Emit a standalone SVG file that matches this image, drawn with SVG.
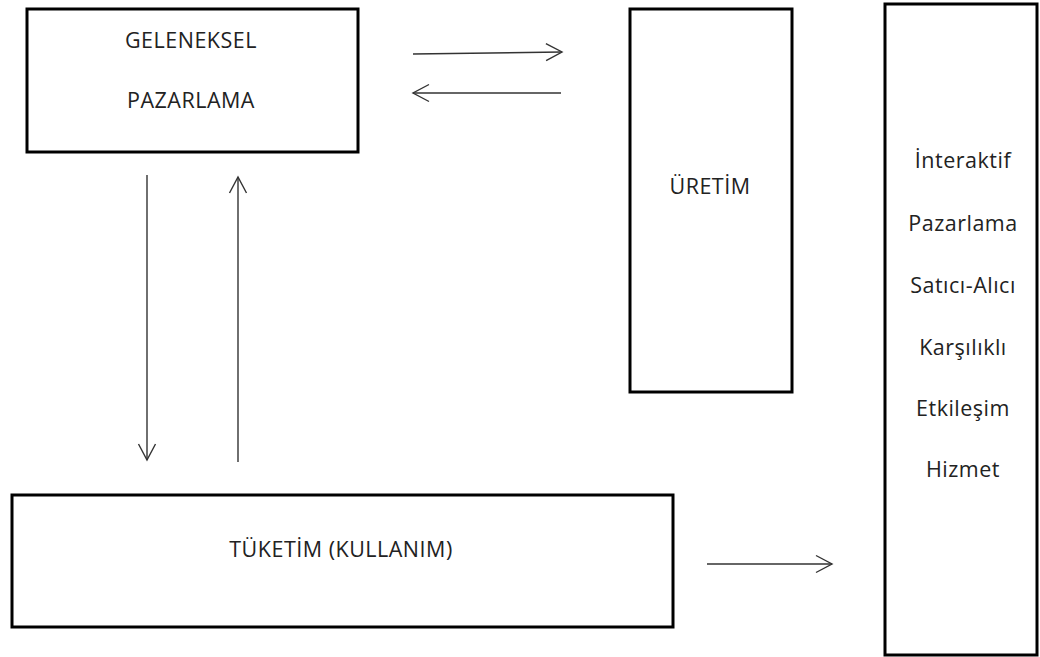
<svg xmlns="http://www.w3.org/2000/svg" width="1040" height="657" viewBox="0 0 1040 657">
<style>
.box{fill:#fff;stroke:#000;stroke-width:3}
.lbl{font-family:"Open Sans","Liberation Sans",sans-serif;font-size:21.5px;letter-spacing:0.5px;fill:#222;text-anchor:middle}
.conn{stroke:#333;stroke-width:1.4;fill:none}
</style>
<defs>
<marker id="ah" viewBox="-18 -10 20 20" markerWidth="20" markerHeight="20" refX="0" refY="0" orient="auto" markerUnits="userSpaceOnUse">
<path d="M -16 -8.5 L 0 0 L -16 8.5" fill="none" stroke="#333" stroke-width="1.4"/>
</marker>
</defs>
<rect width="1040" height="657" fill="#fff"/>
<g id="geleneksel">
<rect class="box" x="27" y="9" width="331" height="143"/>
<text class="lbl" x="191" y="48">GELENEKSEL</text>
<text class="lbl" x="191" y="108">PAZARLAMA</text>
</g>
<g id="uretim">
<rect class="box" x="630" y="9" width="162" height="383"/>
<text class="lbl" x="710" y="194">ÜRETİM</text>
</g>
<g id="interaktif">
<rect class="box" x="885" y="4" width="152" height="651"/>
<text class="lbl" x="963" y="168">İnteraktif</text>
<text class="lbl" x="963" y="231">Pazarlama</text>
<text class="lbl" x="963" y="293">Satıcı-Alıcı</text>
<text class="lbl" x="963" y="355">Karşılıklı</text>
<text class="lbl" x="963" y="416">Etkileşim</text>
<text class="lbl" x="963" y="477">Hizmet</text>
</g>
<g id="tuketim">
<rect class="box" x="12" y="495" width="661" height="132"/>
<text class="lbl" x="341" y="557">TÜKETİM (KULLANIM)</text>
</g>
<g id="connectors">
<line class="conn" x1="413" y1="54" x2="562" y2="52" marker-end="url(#ah)"/>
<line class="conn" x1="561" y1="93" x2="413" y2="93" marker-end="url(#ah)"/>
<line class="conn" x1="147" y1="175" x2="147" y2="460" marker-end="url(#ah)"/>
<line class="conn" x1="238" y1="462" x2="238" y2="177" marker-end="url(#ah)"/>
<line class="conn" x1="707" y1="564" x2="832" y2="564" marker-end="url(#ah)"/>
</g>
</svg>
